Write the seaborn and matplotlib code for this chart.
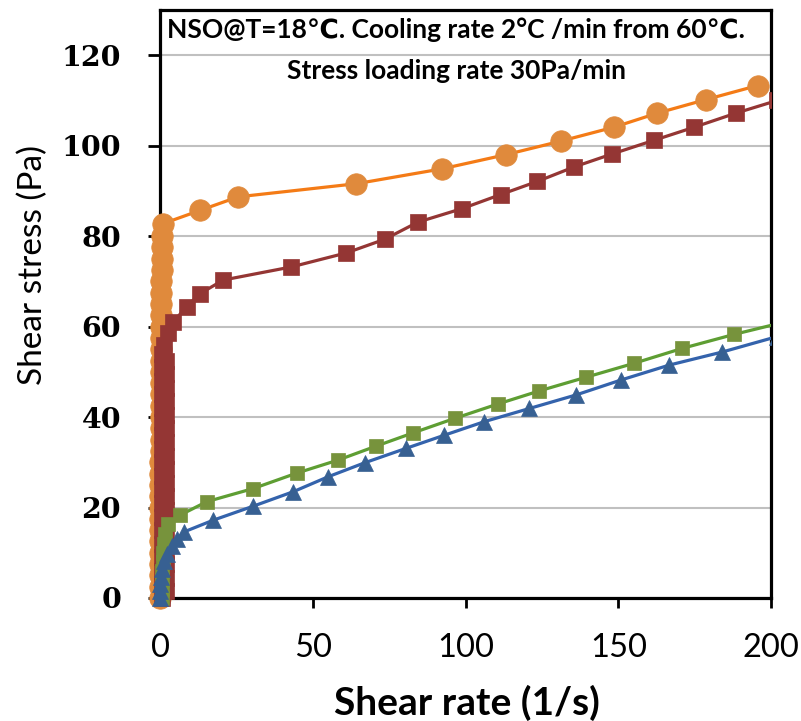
import matplotlib
matplotlib.use("Agg")
import matplotlib.pyplot as plt
import seaborn as sns
from matplotlib.transforms import Bbox, TransformedBbox

# ---------------- data ----------------
orange_x = [0.0, 0.0, 0.0, 0.0, 0.0, 0.0, 0.1, 0.1, 0.1, 0.1, 0.1, 0.1, 0.1, 0.2, 0.2, 0.2, 0.2,
            0.2, 0.2, 0.2, 0.3, 0.3, 0.3, 0.3, 0.3, 0.3, 0.4, 0.4, 0.4, 0.5, 0.5, 0.6, 0.7, 1.1,
            13.1, 25.6, 64.3, 92.4, 113.1, 131.1, 148.6, 162.8, 178.7, 195.6]
orange_y = [0.0, 2.5, 5.0, 7.5, 10.0, 12.5, 15.0, 17.5, 20.0, 22.5, 25.0, 27.5, 30.0, 32.5, 35.0, 37.5, 40.0,
            42.5, 45.0, 47.5, 50.0, 52.5, 55.0, 57.5, 60.0, 62.5, 65.0, 67.5, 70.0, 72.5, 75.0, 77.5, 80.0, 82.8,
            85.7, 88.7, 91.6, 94.9, 98.0, 101.0, 104.1, 107.2, 110.2, 113.3]

red_x = [0.5, 1.9, 0.5, 1.9, 0.5, 1.9, 0.5, 1.9, 0.5, 1.9, 0.5, 1.9, 0.5, 1.9, 0.5, 1.9,
         0.5, 1.9, 0.5, 1.9, 0.5, 1.9, 0.5, 1.9, 0.5, 1.9, 0.5, 1.9, 0.5, 1.9, 0.5, 1.9,
         0.5, 1.9, 0.5, 1.9, 0.5, 1.2,
         2.5, 4.4, 8.7, 13.1, 20.7, 43.0, 61.0, 73.5, 84.4, 98.9, 111.5, 123.5, 135.5, 148.1, 161.7,
         174.9, 188.5, 202.0]
red_y = [0.0, 1.5, 3.0, 4.5, 6.0, 7.5, 9.0, 10.5, 12.0, 13.5, 15.0, 16.5, 18.0, 19.5, 21.0, 22.5,
         24.0, 25.5, 27.0, 28.5, 30.0, 31.5, 33.0, 34.5, 36.0, 37.5, 39.0, 40.5, 42.0, 43.5, 45.0, 46.5,
         48.0, 49.5, 51.0, 52.5, 54.0, 56.0,
         58.5, 61.1, 64.4, 67.3, 70.3, 73.2, 76.3, 79.3, 83.1, 86.1, 89.2, 92.1, 95.3, 98.2, 101.2,
         104.1, 107.2, 110.0]

green_x = [0.5, 0.6, 0.7, 0.8, 0.9, 1.0, 1.2, 1.6, 2.6, 6.5, 15.3, 30.5, 44.7, 58.3, 70.8, 82.8,
           96.4, 110.6, 124.2, 139.4, 155.2, 171.0, 188.0, 205.0]
green_y = [0.0, 2.0, 4.0, 6.0, 8.0, 10.0, 12.0, 14.2, 16.3, 18.3, 21.3, 24.2, 27.6, 30.5, 33.6, 36.5,
           39.7, 42.9, 45.8, 48.8, 51.9, 55.2, 58.3, 61.1]

blue_x = [0.0, 0.0, 0.1, 0.3, 0.6, 1.2, 2.3, 3.8, 5.5, 7.8, 17.4, 30.5, 43.6, 55.0, 67.0, 80.6,
          93.1, 106.2, 120.9, 136.2, 150.9, 166.7, 184.1, 202.0]
blue_y = [0.0, 1.5, 3.0, 4.7, 6.4, 8.1, 9.8, 11.4, 13.0, 14.6, 17.2, 20.3, 23.5, 26.8, 29.9, 33.1,
          36.0, 39.0, 41.9, 44.9, 48.2, 51.5, 54.4, 57.8]

x_ticks = [0, 50, 100, 150, 200]
y_ticks = [0, 20, 40, 60, 80, 100, 120]

title_line1 = "NSO@T=18\u2103. Cooling rate 2\u00b0C /min from 60\u2103."
title_line2 = "Stress loading rate 30Pa/min"
x_label = "Shear rate (1/s)"
y_label = "Shear stress (Pa)"

# ---------------- style ----------------
sns.set_style("ticks")
plt.rcParams["font.family"] = ["Lato", "DejaVu Sans"]
plt.rcParams["text.color"] = "black"
plt.rcParams["axes.labelcolor"] = "black"
plt.rcParams["xtick.color"] = "black"
plt.rcParams["ytick.color"] = "black"
plt.rcParams["xtick.labelcolor"] = "black"
plt.rcParams["ytick.labelcolor"] = "black"

fig = plt.figure(figsize=(8.01, 7.21), dpi=100)
ax = fig.add_axes([0.1998, 0.1706, 0.7628, 0.8155])

series = [
    (orange_x, orange_y, "o", 15.5, "#F47B16", "#E08A3C"),
    (red_x, red_y, "s", 11.0, "#943634", "#943634"),
    (green_x, green_y, "s", 10.5, "#5E9E33", "#77933C"),
    (blue_x, blue_y, "^", 11.5, "#3463AC", "#376092"),
]
for xs, ys, mk, ms, lc, mc in series:
    sns.lineplot(x=xs, y=ys, ax=ax, sort=False, estimator=None, color=lc,
                 marker=mk, markersize=ms, markerfacecolor=mc, markeredgecolor=mc,
                 markeredgewidth=0.5, linewidth=2.3, zorder=3)

clipbox = TransformedBbox(Bbox([[-0.06, -0.06], [1.0, 1.0]]), ax.transAxes)
for ln in ax.lines:
    ln.set_clip_box(clipbox)

ax.set_xlim(0, 200)
ax.set_ylim(0, 130)
ax.set_xticks(x_ticks)
ax.set_yticks(y_ticks)
ax.set_xticklabels([str(v) for v in x_ticks], color="black")
ax.set_yticklabels([str(v) for v in y_ticks], fontfamily="DejaVu Serif",
                   fontweight="bold", fontsize=20.5, color="black")
for lab in ax.get_xticklabels():
    lab.set_fontsize(23.5)

ax.yaxis.grid(True, color="#C0C0C0", linewidth=1.5)
ax.xaxis.grid(False)
ax.set_axisbelow(True)
for sp in ax.spines.values():
    sp.set_visible(True)
    sp.set_color("black")
    sp.set_linewidth(2.3)
    sp.set_zorder(2.5)

ax.tick_params(axis="y", direction="out", length=9, width=2, pad=19, colors="black")
ax.tick_params(axis="x", direction="out", length=7, width=2, pad=18, colors="black")

ax.set_xlabel(x_label, fontsize=28, fontweight="bold", color="black")
ax.set_ylabel(y_label, fontsize=24, fontweight="normal", color="black")
ax.xaxis.set_label_coords(0.503, -0.148)
ax.yaxis.set_label_coords(-0.183, 0.566)

ax.text(0.4845, 0.966, title_line1, transform=ax.transAxes, ha="center", va="center",
        fontsize=19, fontweight="bold", color="black", zorder=5)
ax.text(0.4845, 0.896, title_line2, transform=ax.transAxes, ha="center", va="center",
        fontsize=19, fontweight="bold", color="black", zorder=5)

fig.savefig("out.png", dpi=100)
